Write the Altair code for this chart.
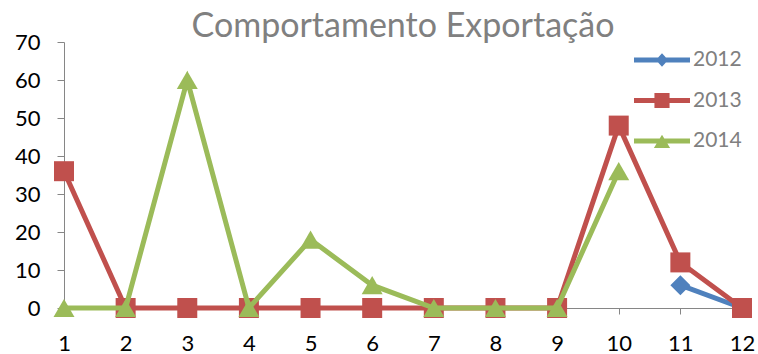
import altair as alt
import pandas as pd

meses = list(range(1, 13))
anos = ["2012", "2013", "2014"]
v2012 = [None, None, None, None, None, None, None, None, None, None, 6, 0]
v2013 = [36, 0, 0, 0, 0, 0, 0, 0, 0, 48, 12, 0]
v2014 = [0, 0, 60, 0, 18, 6, 0, 0, 0, 36, None, None]
cores = ["#4F81BD", "#C0504D", "#9BBB59"]
marcadores = ["diamond", "square", "triangle-up"]
tamanhos = [400, 400, 440]

series = {"2012": v2012, "2013": v2013, "2014": v2014}
rows = []
for ano in anos:
    for m, v in zip(meses, series[ano]):
        if v is not None:
            rows.append({"mes": m, "valor": v, "ano": ano})
df = pd.DataFrame(rows)

rect = "M-1,-0.085H1V0.085H-1Z"
leg_paths = [
    rect + "M0,-0.24L0.22,0L0,0.24L-0.22,0Z",
    rect + "M-0.27,-0.27H0.27V0.27H-0.27Z",
    rect + "M0,-0.22L0.29,0.25H-0.29Z",
]

FONT = "Lato"
xenc = alt.X("mes:Q", scale=alt.Scale(domain=[1, 12], nice=False, zero=False),
             axis=alt.Axis(values=meses, title=None, format="d", grid=False,
                           labelFontSize=22, labelColor="#000000", labelFont=FONT,
                           domainColor="#868686", tickColor="#868686", tickSize=6,
                           labelPadding=19, labelFlush=False))
yenc = alt.Y("valor:Q", scale=alt.Scale(domain=[0, 70], nice=False),
             axis=alt.Axis(values=list(range(0, 71, 10)), title=None, grid=False,
                           labelFontSize=22, labelColor="#000000", labelFont=FONT,
                           domainColor="#868686", tickColor="#868686", tickSize=7,
                           labelPadding=17, labelFlush=False))
cscale = alt.Scale(domain=anos, range=cores)

layers = []
for i, ano in enumerate(anos):
    base = alt.Chart(df).transform_filter(alt.datum.ano == ano)
    layers.append(base.mark_line(strokeWidth=5, color=cores[i]).encode(x=xenc, y=yenc))
    layers.append(base.mark_point(filled=True, opacity=1, shape=marcadores[i],
                                  size=tamanhos[i], color=cores[i]).encode(x=xenc, y=yenc))

leg_common = dict(title=None, orient="none", legendX=570, legendY=-10, padding=0,
                  labelFontSize=21, labelFont=FONT, labelColor="#808080", labelOffset=3,
                  rowPadding=2.5, symbolStrokeWidth=0, symbolOpacity=1, symbolSize=3136)
legenda = alt.Chart(df).transform_filter(alt.datum.valor < 0).mark_point(
    filled=True, opacity=1, size=3136).encode(
    x=xenc, y=yenc,
    color=alt.Color("ano:N", scale=cscale, legend=alt.Legend(**leg_common)),
    shape=alt.Shape("ano:N", scale=alt.Scale(domain=anos, range=leg_paths),
                    legend=alt.Legend(**leg_common)),
)
layers.append(legenda)

chart = alt.layer(*layers).properties(
    width=678, height=266,
    autosize=alt.AutoSizeParams(type="none"),
    padding={"left": 64, "top": 42, "right": 16, "bottom": 46},
    title=alt.TitleParams("Comportamento Exportação", fontSize=34, font=FONT,
                          fontWeight="normal", color="#808080", anchor="middle",
                          offset=8, dy=21),
).configure_view(stroke=None)

chart.save("out.html", embed_options={"renderer": "svg", "actions": False})
